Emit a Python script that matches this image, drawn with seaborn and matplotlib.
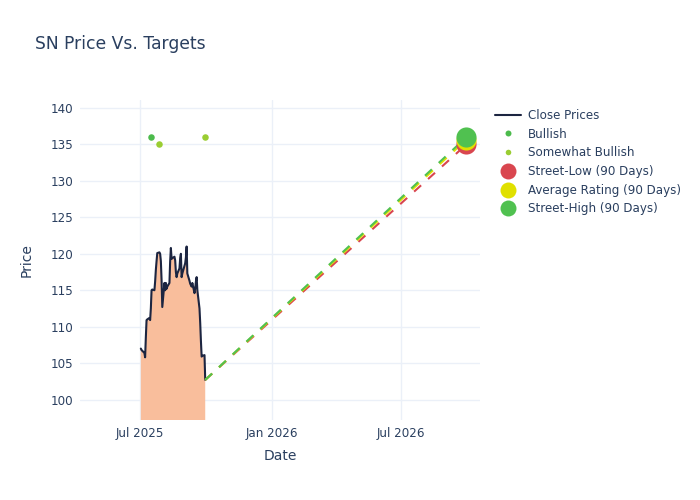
import pandas as pd
import matplotlib
matplotlib.use('Agg')
import matplotlib.pyplot as plt
import matplotlib.dates as mdates
from matplotlib.lines import Line2D
import seaborn as sns

# Close prices, trading days 2 Jul 2025 - 30 Sep 2025
close_dates = pd.bdate_range('2025-07-02', '2025-09-30', freq='C',
                             holidays=['2025-07-04', '2025-09-01'])
close_prices = [
    107.0, 106.8, 106.4, 105.8, 108.5, 110.9, 111.0, 111.2, 110.9, 112.5,
    115.0, 115.1, 115.0, 116.2, 117.8, 119.0, 120.1, 120.2, 120.0, 119.0,
    116.4, 112.7, 116.0, 115.0, 116.0, 115.2, 115.5, 116.0, 119.0, 120.8,
    119.3, 119.4, 119.6, 119.1, 117.5, 116.8, 117.3, 118.0, 119.4, 120.0,
    116.8, 117.3, 118.7, 119.5, 121.0, 117.3, 116.3, 115.9, 115.7, 115.5,
    116.0, 114.6, 115.3, 116.2, 116.8, 115.0, 112.5, 110.5, 108.0, 105.9,
    106.0, 106.1, 102.7,
]

# analyst ratings
bullish_dates = pd.to_datetime(['2025-07-16'])
bullish_prices = [136]
somewhat_dates = pd.to_datetime(['2025-07-28', '2025-09-30'])
somewhat_prices = [135, 136]

# 90 day targets
target_date = pd.Timestamp('2026-09-30')
target_names = ['Street-Low (90 Days)', 'Average Rating (90 Days)', 'Street-High (90 Days)']
target_values = [135.0, 135.67, 136.0]
target_colors = ['#D9464F', '#E0E000', '#50C150']

text_color = '#2a3f5f'
grid_color = '#EBF0F8'

sns.set_theme(style='white')
plt.rcParams['font.family'] = ['DejaVu Sans']

fig = plt.figure(figsize=(7, 5), dpi=100)
ax = fig.add_axes([80/700, 80/500, 400/700, 320/500])

df = pd.DataFrame({'date': close_dates, 'close': close_prices})

#fill under the close line
ax.fill_between(df['date'], df['close'], 0, color='#F9BE9C', linewidth=0, zorder=1)
sns.lineplot(data=df, x='date', y='close', color='#1C2541', linewidth=1.5, ax=ax, zorder=3)

#dashed lines to targets
last_date = df['date'].iloc[-1]
last_price = df['close'].iloc[-1]
for val, col in zip(target_values, target_colors):
    ax.plot([last_date, target_date], [last_price, val], color=col, linewidth=1.5,
            dashes=(4.5, 4.5), zorder=4)

sns.scatterplot(x=bullish_dates, y=bullish_prices, color='#4CBB4C', s=22, linewidth=0, ax=ax, zorder=5)
sns.scatterplot(x=somewhat_dates, y=somewhat_prices, color='#9ACD32', s=22, linewidth=0, ax=ax, zorder=5)
for val, col in zip(target_values, target_colors):
    sns.scatterplot(x=[target_date], y=[val], color=col, s=210, linewidth=0, ax=ax, zorder=6)

ax.set_xlim(pd.Timestamp('2025-04-08'), pd.Timestamp('2026-10-19'))
ax.set_ylim(97.2, 141.1)
ax.set_yticks(range(100, 141, 5))
ax.xaxis.set_major_locator(mdates.MonthLocator(bymonth=[1, 7]))
ax.xaxis.set_major_formatter(mdates.DateFormatter('%b %Y'))
ax.grid(True, color=grid_color, linewidth=1)
ax.set_axisbelow(True)
for s in ax.spines.values():
    s.set_visible(False)
ax.tick_params(length=0, labelsize=8.6, labelcolor=text_color, pad=5)
ax.set_xlabel('')
ax.set_ylabel('')

fig.text(35/700, 1 - 44/500, 'SN Price Vs. Targets', fontsize=12.3, color=text_color, va='center')
fig.text(280/700, 1 - 456/500, 'Date', fontsize=10, color=text_color, ha='center', va='center')
fig.text(27/700, 1 - 260/500, 'Price', fontsize=10, color=text_color, ha='center', va='center', rotation=90)

handles = [
    Line2D([], [], color='#1C2541', linewidth=1.5),
    Line2D([], [], color='#4CBB4C', marker='o', linestyle='', markersize=4.3, markeredgewidth=0),
    Line2D([], [], color='#9ACD32', marker='o', linestyle='', markersize=4, markeredgewidth=0),
]
for col in target_colors:
    handles.append(Line2D([], [], color=col, marker='o', linestyle='', markersize=11.5, markeredgewidth=0))
labels = ['Close Prices', 'Bullish', 'Somewhat Bullish'] + target_names
leg = fig.legend(handles, labels, loc='upper left', bbox_to_anchor=(490/700, 1 - 104/500),
                 frameon=False, fontsize=8.6, labelcolor=text_color, handlelength=2.2,
                 handletextpad=0.6, labelspacing=0.48, borderaxespad=0)

fig.savefig('out.png', dpi=100)
